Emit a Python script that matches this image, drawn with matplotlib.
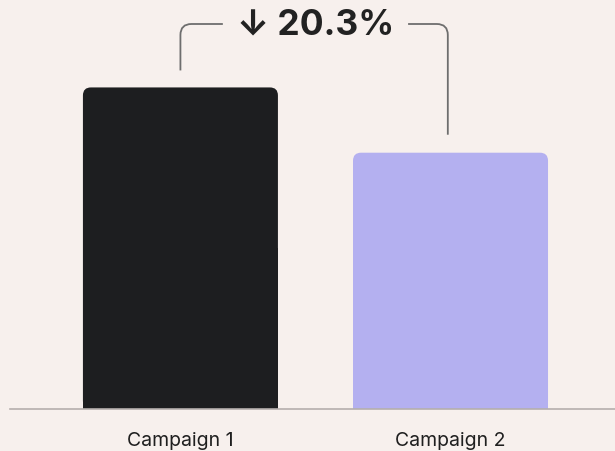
import matplotlib
matplotlib.use("Agg")
import matplotlib.pyplot as plt
from matplotlib.patches import FancyBboxPatch, Rectangle, PathPatch
from matplotlib.path import Path

categories = ["Campaign 1", "Campaign 2"]
values = [100.0, 79.7]
bar_colors = ["#1d1e20", "#b4b0f0"]
change_label = "\u2193 20.3%"

BG = "#f7f0ed"
W, H, DPI = 615, 452, 100
plt.rcParams['font.family'] = ['Inter', 'DejaVu Sans']

fig = plt.figure(figsize=(W / DPI, H / DPI), dpi=DPI, facecolor=BG)
base_px = 410
ax = fig.add_axes([10 / W, (H - base_px) / H, 605 / W, base_px / H])
ax.set_facecolor(BG)
ymax = 127.5
ax.set_xlim(-0.631, 1.609)
ax.set_ylim(0, ymax)
for s in ["top", "right", "left"]:
    ax.spines[s].set_visible(False)
ax.spines["bottom"].set_color("#b5afad")
ax.spines["bottom"].set_linewidth(1.2)
ax.set_yticks([])
ax.set_xticks(range(len(categories)))
ax.set_xticklabels(categories, fontsize=14, color="#1f1f1f")
ax.tick_params(axis="x", length=0, pad=16)

width = 0.722
xpx = 605 / (1.609 + 0.631)       # px per x unit
ypx = base_px / ymax               # px per y unit
aspect = xpx / ypx
r = 8 / xpx
for i, (v, c) in enumerate(zip(values, bar_colors)):
    x0 = i - width / 2
    p = FancyBboxPatch((x0, 0), width, v, boxstyle=f"round,pad=0,rounding_size={r}",
                       mutation_aspect=aspect, fc=c, ec="none", zorder=2)
    ax.add_patch(p)
    ax.add_patch(Rectangle((x0, 0), width, v / 2, fc=c, ec="none", zorder=2))

# bracket
top_y = 25
y_top = (base_px - top_y) / ypx
gap1 = 17 / ypx
gap2 = 18 / ypx
lx, rx = 0 - 0.0, 1 - 0.01
ly0 = values[0] + gap1
ry0 = values[1] + gap2
mid = (0 + 1) / 2
t = ax.text(mid, y_top, change_label, ha="center", va="center", fontsize=25.5,
            fontweight="bold", color="#222222", zorder=3)
fig.canvas.draw()
bb = t.get_window_extent().transformed(ax.transData.inverted())
tg = 14 / xpx
cx = 11 / xpx
cy = 11 / ypx
col = "#6e6e6e"
verts = [(lx, ly0), (lx, y_top - cy), (lx, y_top), (lx + cx, y_top), (bb.x0 - tg, y_top)]
codes = [Path.MOVETO, Path.LINETO, Path.CURVE3, Path.CURVE3, Path.LINETO]
ax.add_patch(PathPatch(Path(verts, codes), fill=False, ec=col, lw=1.3, capstyle="butt"))
verts = [(bb.x1 + tg, y_top), (rx - cx, y_top), (rx, y_top), (rx, y_top - cy), (rx, ry0)]
codes = [Path.MOVETO, Path.LINETO, Path.CURVE3, Path.CURVE3, Path.LINETO]
ax.add_patch(PathPatch(Path(verts, codes), fill=False, ec=col, lw=1.3, capstyle="butt"))

fig.savefig("out.png", dpi=DPI, facecolor=BG)
